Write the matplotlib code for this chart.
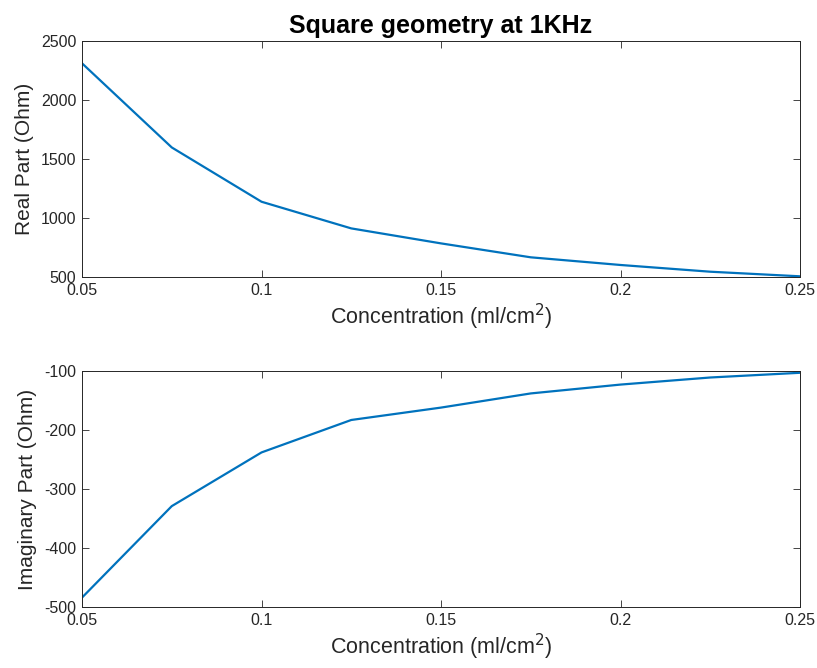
import matplotlib
matplotlib.use("Agg")
import matplotlib.pyplot as plt

# concentration (ml/cm^2)
conc = [0.05, 0.075, 0.1, 0.125, 0.15, 0.175, 0.2, 0.225, 0.25]
# impedance at 1 kHz
real_part = [2311, 1598, 1138, 912, 785, 667, 602, 545, 506]
imag_part = [-484, -329, -238, -183, -162, -138, -123, -111, -103]

x_ticks = [0.05, 0.1, 0.15, 0.2, 0.25]
x_ticklabels = ["0.05", "0.1", "0.15", "0.2", "0.25"]

plt.rcParams['font.family'] = ['Liberation Sans', 'DejaVu Sans']
plt.rcParams['axes.unicode_minus'] = False
line_color = '#0072BD'
axis_color = '#262626'

fig = plt.figure(figsize=(8.17, 6.68), dpi=100)
ax1 = fig.add_axes([0.1004, 0.5853, 0.8788, 0.3533])
ax2 = fig.add_axes([0.1004, 0.0913, 0.8788, 0.3533])


def style_axes(ax):
    ax.set_xlim(0.05, 0.25)
    ax.set_xticks(x_ticks)
    ax.set_xticklabels(x_ticklabels)
    ax.tick_params(direction='in', length=5, width=0.6, top=True, right=True,
                   labelsize=11.5, colors=axis_color, pad=4)
    for s in ax.spines.values():
        s.set_color(axis_color)
        s.set_linewidth(0.7)
    ax.set_xlabel("Concentration (ml/cm$^2$)", fontsize=15.5, color=axis_color, labelpad=3)


ax1.plot(conc, real_part, color=line_color, linewidth=1.6)
ax1.set_ylim(500, 2500)
ax1.set_yticks([500, 1000, 1500, 2000, 2500])
ax1.set_ylabel("Real Part (Ohm)", fontsize=15, color=axis_color, labelpad=5)
style_axes(ax1)
ax1.set_title("Square geometry at 1KHz", fontsize=18, fontweight='bold', pad=6)

ax2.plot(conc, imag_part, color=line_color, linewidth=1.6)
ax2.set_ylim(-500, -100)
ax2.set_yticks([-500, -400, -300, -200, -100])
ax2.set_ylabel("Imaginary Part (Ohm)", fontsize=15, color=axis_color, labelpad=5)
style_axes(ax2)

fig.savefig("out.png", dpi=100)
